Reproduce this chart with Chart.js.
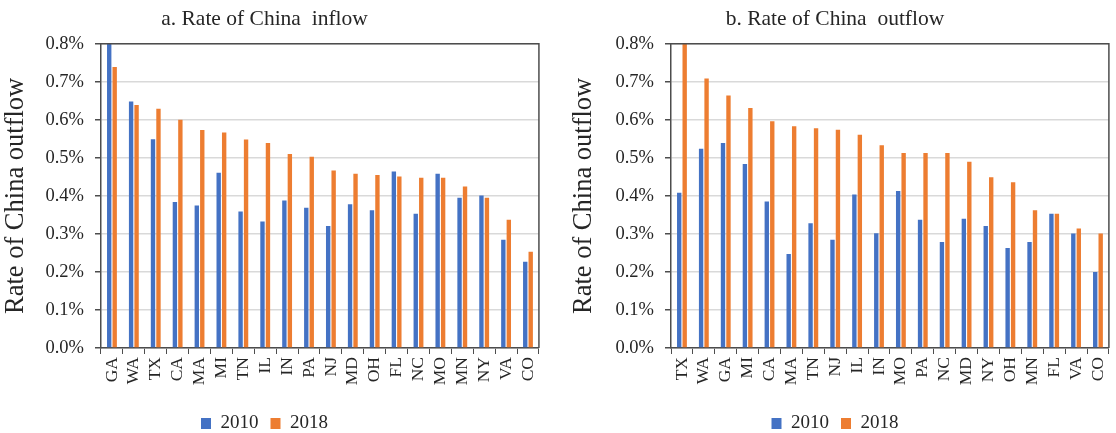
<!DOCTYPE html>
<html>
<head>
<meta charset="utf-8">
<script src="https://cdn.jsdelivr.net/npm/chart.js@4.4.1/dist/chart.umd.min.js"></script>
<style>
html, body { margin: 0; padding: 0; background: #fff; overflow: hidden; width: 1116px; height: 433px; }
canvas { position: absolute; top: 0; }
#chartIn { left: -22px; }
#chartOut { left: 550px; }
</style>
</head>
<body>
<canvas id="chartIn" width="574" height="443"></canvas>
<canvas id="chartOut" width="572" height="443"></canvas>
<script>
// ==========================================
// DATA (percent values)
// ==========================================
const inflowStates = ['GA', 'WA', 'TX', 'CA', 'MA', 'MI', 'TN', 'IL', 'IN', 'PA', 'NJ', 'MD', 'OH', 'FL', 'NC', 'MO', 'MN', 'NY', 'VA', 'CO'];
const inflow2010 = [0.800, 0.648, 0.549, 0.384, 0.375, 0.461, 0.359, 0.333, 0.388, 0.369, 0.321, 0.378, 0.362, 0.464, 0.353, 0.458, 0.395, 0.401, 0.285, 0.227];
const inflow2018 = [0.739, 0.639, 0.629, 0.600, 0.573, 0.567, 0.548, 0.539, 0.510, 0.503, 0.467, 0.458, 0.455, 0.451, 0.448, 0.448, 0.425, 0.395, 0.337, 0.253];

const outflowStates = ['TX', 'WA', 'GA', 'MI', 'CA', 'MA', 'TN', 'NJ', 'IL', 'IN', 'MO', 'PA', 'NC', 'MD', 'NY', 'OH', 'MN', 'FL', 'VA', 'CO'];
const outflow2010 = [0.408, 0.524, 0.539, 0.484, 0.385, 0.247, 0.328, 0.285, 0.404, 0.302, 0.413, 0.337, 0.279, 0.340, 0.321, 0.263, 0.279, 0.353, 0.301, 0.200];
const outflow2018 = [0.800, 0.709, 0.664, 0.631, 0.596, 0.583, 0.578, 0.574, 0.561, 0.533, 0.513, 0.513, 0.513, 0.490, 0.449, 0.436, 0.362, 0.353, 0.314, 0.301];

const seriesNames = ['2010', '2018'];
const yTicksMin = 0;
const yTicksMax = 0.8;
const yTickStep = 0.1;

const BLUE = '#4472C4';
const ORANGE = '#ED7D31';
const TEXT = '#262626';
const AXIS = '#4d4d4d';

Chart.defaults.font.family = "'Liberation Serif', 'Times New Roman', serif";
Chart.defaults.color = TEXT;

// top + right border of the plot box
const framePlugin = {
    id: 'frame',
    afterDraw(chart) {
        const { ctx, chartArea: a } = chart;
        ctx.save();
        ctx.strokeStyle = AXIS;
        ctx.lineWidth = 1.5;
        ctx.beginPath();
        ctx.moveTo(a.left, a.top);
        ctx.lineTo(a.right, a.top);
        ctx.lineTo(a.right, a.bottom);
        ctx.stroke();
        ctx.restore();
    }
};

function makeChart(id, title, labels, d2010, d2018, yWidth, yTitlePad, padRight) {
    return new Chart(document.getElementById(id), {
        type: 'bar',
        data: {
            labels: labels,
            datasets: [
                { label: seriesNames[0], data: d2010, backgroundColor: BLUE, categoryPercentage: 0.5, barPercentage: 0.8 },
                { label: seriesNames[1], data: d2018, backgroundColor: ORANGE, categoryPercentage: 0.5, barPercentage: 0.8 }
            ]
        },
        options: {
            responsive: false,
            animation: false,
            layout: { padding: { left: 0, right: padRight, top: 0, bottom: 0 } },
            plugins: {
                title: {
                    display: true,
                    text: title,
                    color: TEXT,
                    font: { size: 21.5, weight: 'normal' },
                    padding: { top: 6, bottom: 12 }
                },
                legend: {
                    position: 'bottom',
                    labels: { boxWidth: 10, boxHeight: 11, padding: 12, color: TEXT, font: { size: 19 } }
                },
                tooltip: { enabled: false }
            },
            scales: {
                x: {
                    grid: { drawOnChartArea: false, drawTicks: true, tickLength: 6, tickColor: AXIS, offset: true },
                    border: { color: AXIS, width: 1.5 },
                    ticks: { minRotation: 90, maxRotation: 90, autoSkip: false, padding: 3, color: TEXT, font: { size: 17.5 } },
                    afterFit: s => { s.height = 54; }
                },
                y: {
                    min: yTicksMin,
                    max: yTicksMax,
                    ticks: {
                        stepSize: yTickStep,
                        padding: 11,
                        color: TEXT,
                        font: { size: 18.5 },
                        callback: v => v.toFixed(1) + '%'
                    },
                    grid: { color: '#d9d9d9', lineWidth: 1.5, tickColor: AXIS, tickLength: 6 },
                    border: { color: AXIS, width: 1.5 },
                    title: {
                        display: true,
                        text: 'Rate of China outflow',
                        color: TEXT,
                        font: { size: 26.5 },
                        padding: { top: yTitlePad, bottom: 0 }
                    },
                    afterFit: s => { s.width = yWidth; }
                }
            }
        },
        plugins: [framePlugin]
    });
}

makeChart('chartIn', 'a. Rate of China  inflow', inflowStates, inflow2010, inflow2018, 123, 22, 1);
makeChart('chartOut', 'b. Rate of China  outflow', outflowStates, outflow2010, outflow2018, 121, 18, 2);
</script>
</body>
</html>
